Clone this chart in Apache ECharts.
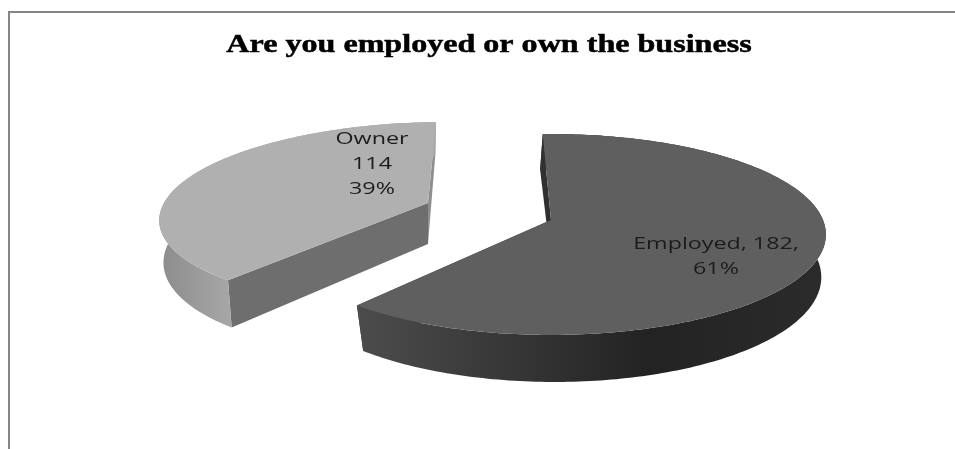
<!DOCTYPE html>
<html>
<head>
<meta charset="utf-8">
<style>html,body{margin:0;padding:0;background:#fff}#chart{width:955px;height:449px}</style>
<script src="https://cdn.jsdelivr.net/npm/echarts@6/dist/echarts.min.js"></script>
</head>
<body>
<div id="chart"></div>
<script>
// Survey answers
const categories = ['Employed', 'Owner'];
const counts = [182, 114];
const labelSeparators = [[', ', ',\n'], ['\n', '\n']];
const chartTitle = 'Are you employed or own the business';

const total = counts.reduce((a, b) => a + b, 0);
const START_DEG = -2;
const RAD = Math.PI / 180;

// Perspective view of each wedge: upper and lower rim of the extruded disc.
const views = [
  {
    top: { ax: 551, ay: 220, A: 272, B: 98.4, k: 0.144, shear: 0 },
    bottom: { ax: 551, ay: 260.7, A: 267, B: 103.8, k: 0.144, shear: -0.03 },
    face: '#5f5f5f', startFace: '#303030', endFace: '#303030',
    wall: [[0, '#4c4c4c'], [0.62, '#232323'], [1, '#2b2b2b']],
    label: { x: 716, y: 244, lh: 25 }
  },
  {
    top: { ax: 428, ay: 203, A: 264, B: 90.7, k: 0.12, shear: 0.2 },
    bottom: { ax: 428, ay: 244, A: 260, B: 98, k: 0.12, shear: 0.175 },
    face: '#b0b0b0', startFace: '#6e6e6e', endFace: '#8e8e8e',
    wall: [[0, '#8c8c8c'], [0.25, '#a6a6a6'], [1, '#a6a6a6']],
    label: { x: 372, y: 139, lh: 25 }
  }
];

function rimPoint(deg, g) {
  const s = Math.sin(deg * RAD), c = Math.cos(deg * RAD);
  const d = 1 + g.k * c;
  const x = g.A * s / d, y = -g.B * c / d;
  return [g.ax + x - g.shear * y, g.ay + y];
}

function arc(from, to, g) {
  const pts = [];
  const n = Math.max(2, Math.ceil(Math.abs(to - from)));
  for (let i = 0; i <= n; i++) pts.push(rimPoint(from + (to - from) * i / n, g));
  return pts;
}

function poly(points, fill) {
  return { type: 'polygon', shape: { points }, style: { fill }, silent: true };
}

function renderWedge(params, api) {
  const i = params.dataIndex;
  const before = counts.slice(0, i).reduce((a, b) => a + b, 0);
  const from = START_DEG + before / total * 360;
  const to = from + api.value(0) / total * 360;
  const v = views[i];
  const apexT = [v.top.ax, v.top.ay], apexB = [v.bottom.ax, v.bottom.ay];
  const rimT = arc(from, to, v.top), rimB = arc(from, to, v.bottom);

  const children = [
    // flat cut faces
    poly([apexT, rimT[0], rimB[0], apexB], v.startFace),
    poly([apexT, rimT[rimT.length - 1], rimB[rimB.length - 1], apexB], v.endFace),
    // curved outer wall
    poly(rimT.concat(rimB.slice().reverse()), new echarts.graphic.LinearGradient(0, 0, 1, 0,
      v.wall.map(([offset, color]) => ({ offset, color })))),
    // upper face
    poly([apexT].concat(rimT), v.face)
  ];

  const pct = Math.round(counts[i] / total * 100) + '%';
  const [sepA, sepB] = labelSeparators[i];
  const lines = (categories[i] + sepA + counts[i] + sepB + pct).split('\n');
  lines.forEach((line, n) => {
    children.push({
      type: 'text',
      x: v.label.x,
      y: v.label.y + n * v.label.lh,
      scaleX: 1.37,
      silent: true,
      style: {
        text: line, fill: '#1c1c1c', align: 'center', verticalAlign: 'middle',
        font: '17px "Open Sans"'
      }
    });
  });
  return { type: 'group', children };
}

const chart = echarts.init(document.getElementById('chart'), null, { renderer: 'canvas' });
chart.setOption({
  animation: false,
  backgroundColor: '#ffffff',
  graphic: [
    { type: 'polyline', silent: true, shape: { points: [[9, 449], [9, 12], [955, 12]] },
      style: { stroke: '#868686', lineWidth: 2, fill: null } },
    { type: 'text', x: 489, y: 45, scaleX: 1.234, silent: true,
      style: { text: chartTitle, fill: '#000', align: 'center', verticalAlign: 'middle',
        font: 'bold 26px "Liberation Serif"', stroke: '#000', lineWidth: 0.5 } }
  ],
  series: [{
    type: 'custom',
    coordinateSystem: 'none',
    renderItem: renderWedge,
    encode: { value: 0 },
    data: counts.map((v, i) => ({ name: categories[i], value: [v] }))
  }]
});
</script>
</body>
</html>
